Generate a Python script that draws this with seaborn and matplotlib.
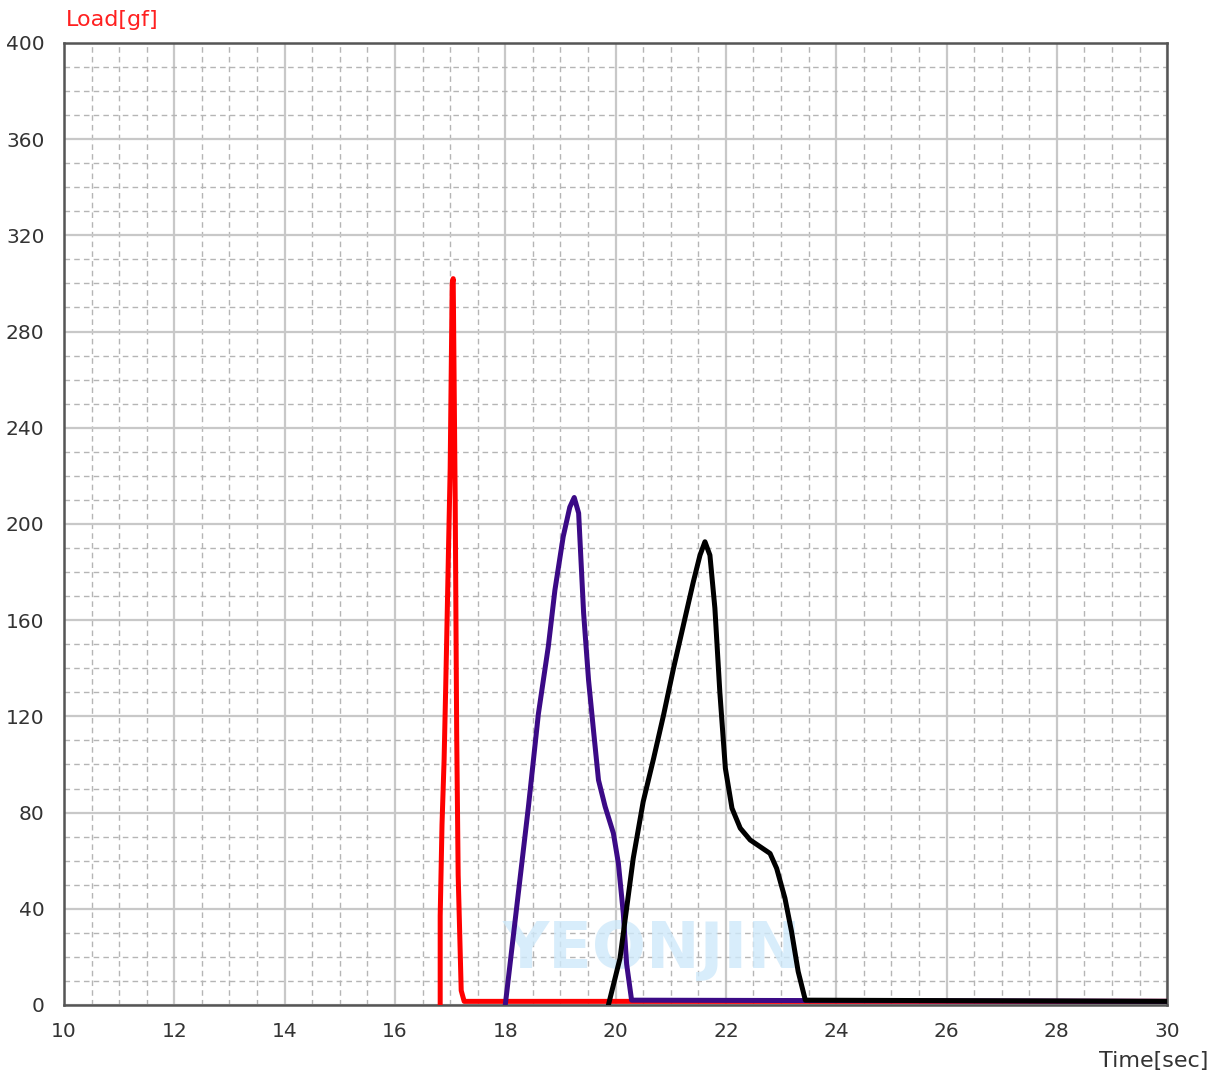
import numpy as np
import pandas as pd
import matplotlib
matplotlib.use("Agg")
import matplotlib.pyplot as plt
from matplotlib.ticker import MultipleLocator
import seaborn as sns

# -------------------------
# Data
# -------------------------
red_t = [16.82, 16.82, 16.853, 16.891, 16.920, 16.947, 16.974, 17.001, 17.019, 17.038, 17.056,
         17.092, 17.119, 17.146, 17.177, 17.201, 17.255, 30.0]
red_y = [0, 37, 75, 102, 132, 162, 193, 223, 261, 300, 302,
         210, 113, 54, 27, 6, 1.5, 1.5]

purple_t = [18.0, 18.42, 18.60, 18.78, 18.90, 19.05, 19.17, 19.25, 19.33, 19.42, 19.51, 19.60,
            19.69, 19.81, 19.96, 20.05, 20.14, 20.20, 20.29, 30.0]
purple_y = [0, 82.5, 121, 149, 172.5, 194.7, 207, 211, 204.5, 163, 135, 114,
            93.5, 82.5, 71.4, 59, 38, 17, 2, 1.5]

black_t = [19.87, 20.08, 20.32, 20.50, 20.69, 20.87, 21.05, 21.23, 21.41, 21.53, 21.62, 21.71,
           21.80, 21.89, 21.99, 22.11, 22.26, 22.44, 22.62, 22.80, 22.92, 23.07, 23.19, 23.31,
           23.44, 30.0]
black_y = [0, 19.4, 61, 84.5, 102.6, 120.6, 140, 158, 176, 187, 192.6, 187,
           165, 130, 98.4, 81.8, 73.5, 68.6, 65.8, 63, 56.8, 44.4, 30.5, 13.9,
           2, 1.5]

x_ticks = list(range(10, 31, 2))
y_ticks = list(range(0, 401, 40))

df = pd.concat([
    pd.DataFrame({"t": red_t, "load": red_y, "run": "A"}),
    pd.DataFrame({"t": purple_t, "load": purple_y, "run": "B"}),
    pd.DataFrame({"t": black_t, "load": black_y, "run": "C"}),
], ignore_index=True)

# -------------------------
# Plot
# -------------------------
sns.set_style("white")
plt.rcParams["font.family"] = ["DejaVu Sans"]

fig = plt.figure(figsize=(12.19, 10.73), dpi=100)
ax = fig.add_axes([0.0525, 0.0634, 0.905, 0.8966])

ax.set_xlim(10, 30)
ax.set_ylim(0, 400)
ax.xaxis.set_major_locator(MultipleLocator(2))
ax.xaxis.set_minor_locator(MultipleLocator(0.5))
ax.yaxis.set_major_locator(MultipleLocator(40))
ax.yaxis.set_minor_locator(MultipleLocator(10))
ax.grid(which="minor", color="#b5b5b5", linestyle=(0, (4, 3)), linewidth=1.0)
ax.grid(which="major", color="#c8c8c8", linestyle="-", linewidth=1.6)
ax.set_axisbelow(True)

# watermark
ax.text(20.66, 23, "YEONJIN", ha="center", va="center", fontsize=46, fontweight="bold",
        color="#cfe9fa", alpha=0.8, zorder=1.5)

sns.lineplot(data=df, x="t", y="load", hue="run", sort=False, estimator=None,
             palette={"A": "#ff0000", "B": "#3b0a86", "C": "#000000"},
             linewidth=3.6, legend=False, ax=ax, zorder=3)

ax.set_xticks(x_ticks)
ax.set_yticks(y_ticks)
ax.tick_params(which="both", length=0)
ax.tick_params(axis="x", pad=12, labelsize=14.5, labelcolor="#333333")
ax.tick_params(axis="y", pad=14, labelsize=14.5, labelcolor="#333333")
ax.set_xlabel("")
ax.set_ylabel("")

for s in ax.spines.values():
    s.set_color("#555555")
    s.set_linewidth(1.8)

fig.text(66 / 1219, 1 - 20 / 1073, "Load[gf]", color="#ff2020", fontsize=16, va="center", ha="left")
fig.text(1208 / 1219, 1 - 1061 / 1073, "Time[sec]", color="#333333", fontsize=16, va="center", ha="right")

fig.savefig("out.png", dpi=100)
